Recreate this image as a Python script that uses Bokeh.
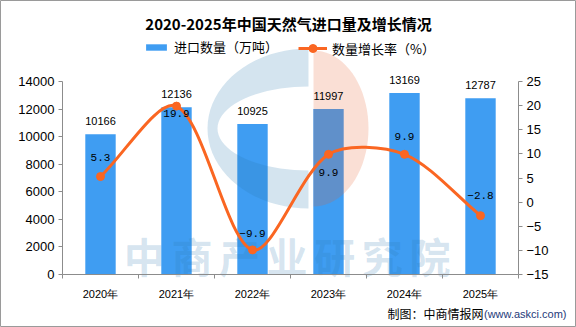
import math
from bokeh.plotting import figure
from bokeh.models import (Range1d, LinearAxis, FixedTicker, Label, Legend,
                          LegendItem, ColumnDataSource)
from bokeh.core.properties import value
from bokeh.embed import file_html
from bokeh.resources import INLINE

# ---------------- data ----------------
years = ["2020年", "2021年", "2022年", "2023年", "2024年", "2025年"]
imports = [10166, 12136, 10925, 11997, 13169, 12787]
growth = [5.3, 19.9, -9.9, 9.9, 9.9, -2.8]
left_ticks = [0, 2000, 4000, 6000, 8000, 10000, 12000, 14000]
right_ticks = [-15, -10, -5, 0, 5, 10, 15, 20, 25]
right_tick_labels = ["\u221215", "\u221210", "\u22125", "0", "5", "10", "15", "20", "25"]
title_text = "2020-2025年中国天然气进口量及增长情况"
legend_labels = ["进口数量（万吨）", "数量增长率（%）"]
watermark_text = "中商产业研究院"
source_note = "制图：中商情报网"
source_url = "(www.askci.com)"

# ---------------- style / layout ----------------
W, H = 576, 327
FL, FR, FT, FB = 62, 518, 81, 274          # plot area in canvas pixels
fw, fh = FR - FL, FB - FT
BAR = "#3F9DF2"
ORANGE = "#FA6622"
AXIS = "#8C8C8C"
growth_label_offsets = [-19, 7, -16, 18, -18, -20]
SMOOTH = 0.3

n = len(years)
xs = list(range(n))
lmin, lmax = left_ticks[0], left_ticks[-1]
rmin, rmax = right_ticks[0], right_ticks[-1]

def dx(px):
    return (px - FL) / fw * n - 0.5

def dyl(py):
    return (FB - py) / fh * (lmax - lmin) + lmin

def dyr(py):
    return (FB - py) / fh * (rmax - rmin) + rmin

p = figure(width=W, height=H, output_backend="svg", toolbar_location=None,
           x_range=Range1d(dx(0), dx(W)), y_range=Range1d(dyl(H), dyl(0)),
           min_border=0)
p.extra_y_ranges = {"r": Range1d(dyr(H), dyr(0))}
p.title.visible = False
p.xgrid.visible = False
p.ygrid.visible = False
p.outline_line_color = "#9A9A9A"
p.outline_line_width = 1
p.background_fill_color = "white"
p.border_fill_color = "white"

# x axis
xa = p.xaxis[0]
xa.fixed_location = lmin
xa.bounds = (-0.5, n - 0.5)
xa.ticker = FixedTicker(ticks=xs, minor_ticks=[i - 0.5 for i in range(n + 1)])
xa.major_label_overrides = {i: years[i] for i in xs}
xa.major_tick_out = 0
xa.major_tick_in = 0
xa.minor_tick_out = 4
xa.minor_tick_in = 0
xa.minor_tick_line_color = AXIS
xa.axis_line_color = AXIS
xa.major_label_standoff = 9
xa.major_label_text_font = "Liberation Sans"
xa.major_label_text_font_size = "11px"
xa.major_label_text_color = "black"

# left axis
ya = p.yaxis[0]
ya.fixed_location = -0.5
ya.bounds = (lmin, lmax)
ya.ticker = FixedTicker(ticks=left_ticks, minor_ticks=[])
ya.major_tick_out = 4
ya.major_tick_in = 0
ya.major_tick_line_color = AXIS
ya.axis_line_color = AXIS
ya.major_label_standoff = 4
ya.major_label_text_font = "Liberation Sans"
ya.major_label_text_font_size = "13px"
ya.major_label_text_color = "black"

# right axis
ra = LinearAxis(y_range_name="r", fixed_location=n - 0.5, bounds=(rmin, rmax))
ra.ticker = FixedTicker(ticks=right_ticks, minor_ticks=[])
ra.major_label_overrides = {t: l for t, l in zip(right_ticks, right_tick_labels)}
ra.major_tick_out = 4
ra.major_tick_in = 0
ra.major_tick_line_color = AXIS
ra.axis_line_color = AXIS
ra.major_label_standoff = 4
ra.major_label_text_font = "Liberation Sans"
ra.major_label_text_font_size = "13px"
ra.major_label_text_color = "black"
p.add_layout(ra, "right")

# bars
bars = p.vbar(x=xs, top=imports, bottom=0, width=0.4, fill_color=BAR, line_color=None)

# watermark logo (decoration)
def half_ellipse(cx, cy, rx, ry, side, steps=40):
    pts = []
    for k in range(steps + 1):
        phi = math.pi * k / steps
        pts.append((cx + side * rx * math.sin(phi), cy - ry * math.cos(phi)))
    return pts

outer = half_ellipse(308, 128, 101, 80, -1)
inner = half_ellipse(308, 128, 91, 42, -1)[::-1]
cpoly = outer + inner
p.patch([dx(a) for a, b in cpoly], [dyl(b) for a, b in cpoly],
        fill_color="#2A78B0", fill_alpha=0.2, line_color=None)
opoly = half_ellipse(313, 128, 55, 78, 1)
p.patch([dx(a) for a, b in opoly], [dyl(b) for a, b in opoly],
        fill_color="#E55F2C", fill_alpha=0.2, line_color=None)

wm_x = [dx(120 + (i + 0.5) * 47.6) for i in range(len(watermark_text))]
wm_y = [dyl(254)] * len(watermark_text)
p.text(x=wm_x, y=wm_y, text=list(watermark_text), text_align="center",
       text_baseline="middle", text_font=value("Noto Sans CJK SC"),
       text_font_style="bold", text_font_size="41px",
       text_color="#2A78B0", text_alpha=0.2)

# smooth growth curve (bezier through the data points)
sx_scale = fw / n
sy_scale = fh / (rmax - rmin)
pts = [(x * sx_scale, g * sy_scale) for x, g in zip(xs, growth)]
cin, cout = [], []
for i in range(n):
    pr = pts[max(i - 1, 0)]
    nx = pts[min(i + 1, n - 1)]
    vx, vy = nx[0] - pr[0], nx[1] - pr[1]
    d0 = math.hypot(pts[i][0] - pr[0], pts[i][1] - pr[1])
    d1 = math.hypot(pts[i][0] - nx[0], pts[i][1] - nx[1])
    tot = d0 + d1
    f0, f1 = d0 / tot, d1 / tot
    cin.append((pts[i][0] - vx * SMOOTH * f0, pts[i][1] - vy * SMOOTH * f0))
    cout.append((pts[i][0] + vx * SMOOTH * f1, pts[i][1] + vy * SMOOTH * f1))

bz = dict(
    x0=[xs[i] for i in range(n - 1)], y0=[growth[i] for i in range(n - 1)],
    x1=[xs[i + 1] for i in range(n - 1)], y1=[growth[i + 1] for i in range(n - 1)],
    cx0=[cout[i][0] / sx_scale for i in range(n - 1)],
    cy0=[cout[i][1] / sy_scale for i in range(n - 1)],
    cx1=[cin[i + 1][0] / sx_scale for i in range(n - 1)],
    cy1=[cin[i + 1][1] / sy_scale for i in range(n - 1)],
)
curve = p.bezier(source=ColumnDataSource(bz), x0="x0", y0="y0", x1="x1", y1="y1",
                 cx0="cx0", cy0="cy0", cx1="cx1", cy1="cy1",
                 line_color=ORANGE, line_width=3, y_range_name="r")
marks = p.scatter(x=xs, y=growth, size=8, fill_color=ORANGE, line_color=ORANGE,
                  y_range_name="r")

# data labels
p.text(x=xs, y=imports, text=[str(v) for v in imports], text_align="center",
       text_baseline="middle", y_offset=-13, text_font=value("Liberation Sans"),
       text_font_size="11px", text_color="black")
gsrc = ColumnDataSource(dict(x=xs, y=growth,
                             t=[f"{g:.1f}".replace("-", "\u2212") for g in growth],
                             off=growth_label_offsets))
p.text(source=gsrc, x="x", y="y", text="t", y_offset="off", text_align="center",
       text_baseline="middle", text_font=value("Liberation Mono"),
       text_font_size="11px", text_color="black", y_range_name="r")

# title
p.add_layout(Label(x=dx(288), y=dyl(23), text=title_text, text_align="center",
                   text_baseline="middle", text_font="Noto Sans CJK SC",
                   text_font_size="15px", text_font_style="bold",
                   text_color="black"))

# legends
leg1 = Legend(items=[LegendItem(label=legend_labels[0], renderers=[bars])],
              location=(143, H - 56), orientation="horizontal",
              glyph_width=26, glyph_height=8, label_height=8, label_standoff=5,
              padding=0, margin=0, spacing=0, border_line_color=None,
              background_fill_alpha=0, label_text_font="Noto Sans CJK SC",
              label_text_font_size="13px", label_text_color="black")
leg2 = Legend(items=[LegendItem(label=legend_labels[1], renderers=[curve, marks])],
              location=(298, H - 58), orientation="horizontal",
              glyph_width=29, glyph_height=20, label_height=20, label_standoff=5,
              padding=0, margin=0, spacing=0, border_line_color=None,
              background_fill_alpha=0, label_text_font="Noto Sans CJK SC",
              label_text_font_size="13px", label_text_color="black")
p.add_layout(leg1)
p.add_layout(leg2)

# source note
p.add_layout(Label(x=dx(483), y=dyl(313), text=source_note, text_align="right",
                   text_baseline="middle", text_font="Noto Sans CJK SC",
                   text_font_size="12px", text_color="black"))
p.add_layout(Label(x=dx(566), y=dyl(313), text=source_url, text_align="right",
                   text_baseline="middle", text_font="Liberation Sans",
                   text_font_size="11px", text_color="#1F3A7A"))

open("out.html", "w").write(file_html(p, INLINE))
